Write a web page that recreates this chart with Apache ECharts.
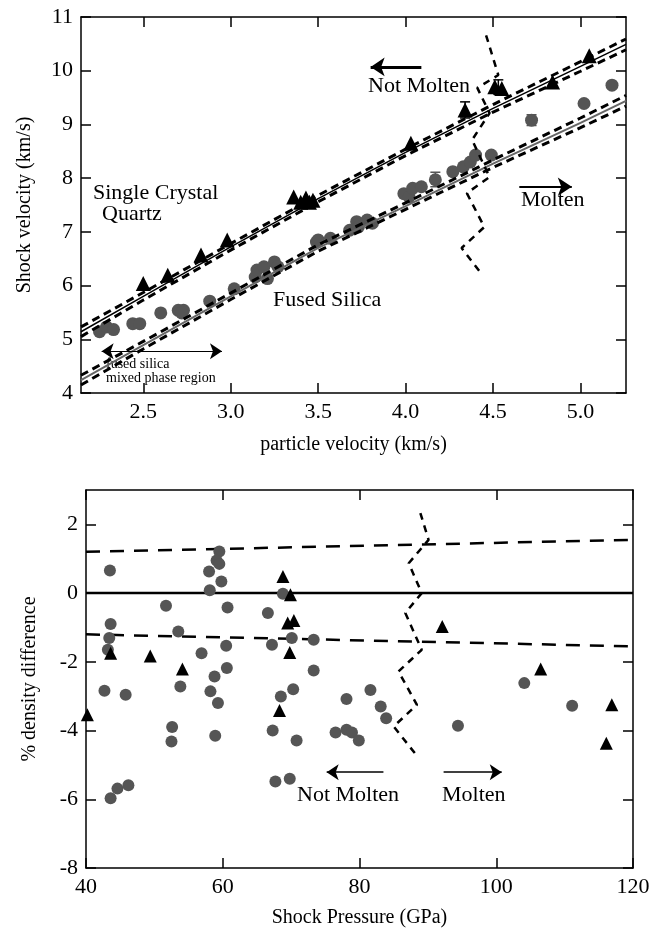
<!DOCTYPE html>
<html>
<head>
<meta charset="utf-8">
<script src="https://cdn.jsdelivr.net/npm/echarts@6/dist/echarts.min.js"></script>
<style>
  html, body { margin: 0; padding: 0; background: #fff; }
  #main { width: 665px; height: 930px; }
</style>
</head>
<body>
<div id="main"></div>
<script>
// top panel: Us - up
var quartzUp = [2.50, 2.64, 2.83, 2.98, 3.36, 3.40, 3.43, 3.45, 3.47, 4.03, 4.34, 4.51, 4.55, 4.84, 5.05];
var quartzUs = [6.04, 6.19, 6.57, 6.85, 7.65, 7.55, 7.63, 7.55, 7.59, 8.65, 9.27, 9.70, 9.67, 9.79, 10.28];
var silicaUp = [2.25, 2.29, 2.33, 2.44, 2.48, 2.60, 2.70, 2.73, 2.72, 2.88, 3.02, 3.14, 3.15, 3.19, 3.21, 3.25, 3.27,
                3.49, 3.50, 3.57, 3.68, 3.72, 3.73, 3.78, 3.81, 3.99, 4.02, 4.04, 4.09, 4.17, 4.27, 4.33, 4.37, 4.40, 4.49,
                4.72, 5.02, 5.18];
var silicaUs = [5.14, 5.23, 5.18, 5.29, 5.29, 5.49, 5.54, 5.54, 5.49, 5.71, 5.94, 6.16, 6.29, 6.35, 6.13, 6.44, 6.35,
                6.81, 6.85, 6.88, 7.03, 7.19, 7.09, 7.22, 7.16, 7.71, 7.65, 7.81, 7.84, 7.97, 8.12, 8.21, 8.30, 8.43, 8.43,
                9.08, 9.39, 9.73];
// error bars [up, low, high]
var quartzErr = [[4.34, 9.12, 9.42], [4.53, 9.56, 9.83]];
var silicaErr = [[4.17, 7.84, 8.11], [4.72, 8.98, 9.18]];

// fit lines and their bands
var fitUp = [2.144, 2.5, 3.0, 3.5, 4.0, 4.5, 5.0, 5.26];
var quartzFit = [5.14, 5.80, 6.72, 7.62, 8.48, 9.30, 10.08, 10.49];
var quartzHi = [5.23, 5.87, 6.78, 7.68, 8.54, 9.37, 10.17, 10.59];
var quartzLo = [5.05, 5.73, 6.66, 7.56, 8.42, 9.23, 9.99, 10.39];
var silicaFit = [4.24, 4.89, 5.80, 6.70, 7.48, 8.27, 9.03, 9.44];
var silicaHi = [4.33, 4.96, 5.86, 6.76, 7.54, 8.34, 9.12, 9.54];
var silicaLo = [4.15, 4.82, 5.74, 6.64, 7.42, 8.20, 8.94, 9.34];

// melt boundary in Us-up
var meltUp = [4.46, 4.53, 4.41, 4.48, 4.38, 4.48, 4.35, 4.45, 4.32, 4.44];
var meltUs = [10.66, 9.92, 9.68, 9.21, 8.71, 8.02, 7.72, 7.09, 6.70, 6.19];

// bottom panel: density difference vs pressure
var quartzP = [40.2, 43.6, 49.4, 54.1, 68.3, 68.8, 69.9, 69.5, 70.4, 69.8, 92.1, 106.5, 116.9, 116.1];
var quartzD = [-3.54, -1.75, -1.83, -2.21, -3.42, 0.48, -0.05, -0.87, -0.80, -1.73, -0.97, -2.21, -3.25, -4.37];
var silicaP = [43.5, 59.5, 59.1, 59.5, 58.0, 59.8, 58.1, 51.7, 60.7, 66.6, 43.6, 53.5, 43.4, 43.2, 56.9, 60.5, 67.2,
               60.6, 58.8, 42.7, 45.8, 53.8, 58.2, 59.3, 68.5, 68.8, 70.1, 73.3, 73.3, 70.3, 52.6, 52.5, 58.9, 67.3,
               70.8, 76.5, 43.6, 44.6, 46.2, 67.7, 69.8, 81.6, 78.1, 83.1, 83.9, 78.1, 78.9, 79.9, 94.4, 104.1, 111.1];
var silicaD = [0.66, 1.21, 0.95, 0.85, 0.63, 0.34, 0.08, -0.37, -0.42, -0.58, -0.90, -1.12, -1.31, -1.65, -1.75, -1.53, -1.50,
               -2.18, -2.43, -2.84, -2.96, -2.72, -2.86, -3.20, -3.01, -0.02, -1.31, -1.36, -2.25, -2.80, -3.90, -4.32, -4.15, -4.00,
               -4.29, -4.06, -5.97, -5.69, -5.59, -5.48, -5.40, -2.82, -3.08, -3.30, -3.64, -3.98, -4.06, -4.29, -3.86, -2.62, -3.28];
var bandP = [40, 120];
var bandHi = [1.20, 1.55];
var bandLo = [-1.20, -1.55];
var meltP = [88.9, 90.1, 87.2, 89.1, 86.7, 89.1, 85.7, 88.4, 85.0, 88.1];
var meltD = [2.33, 1.55, 0.87, 0.00, -0.58, -1.65, -2.28, -3.25, -3.88, -4.66];

var xTicksTop = [2.5, 3.0, 3.5, 4.0, 4.5, 5.0];
var yTicksTop = [4, 5, 6, 7, 8, 9, 10, 11];
var xTicksBot = [40, 60, 80, 100, 120];
var yTicksBot = [-8, -6, -4, -2, 0, 2];

function pairs(xs, ys) {
    var out = [];
    for (var i = 0; i < xs.length; i++) out.push([xs[i], ys[i]]);
    return out;
}

var FONT = 'Liberation Serif';
var GRAY = '#555555';

function axisBase(min, max, ticks, pos, showLabel, gridIndex, fmt) {
    return {
        type: 'value', gridIndex: gridIndex, position: pos, min: min, max: max,
        splitLine: { show: false },
        axisLine: { show: true, onZero: false, lineStyle: { color: '#000', width: 1.5 } },
        axisTick: { show: true, inside: true, length: 10, customValues: ticks, lineStyle: { color: '#000', width: 1.5 } },
        axisLabel: { show: showLabel, customValues: ticks, margin: 8, color: '#000', fontFamily: FONT, fontSize: 22,
                     formatter: fmt || function (v) { return String(v); } }
    };
}

var xTop = axisBase(2.144, 5.26, xTicksTop, 'bottom', true, 0, function (v) { return v.toFixed(1); });
xTop.name = 'particle velocity (km/s)';
xTop.nameLocation = 'middle'; xTop.nameGap = 42;
xTop.nameTextStyle = { fontFamily: FONT, fontSize: 20, color: '#000' };
var xTop2 = axisBase(2.144, 5.26, xTicksTop, 'top', false, 0);
var yTop = axisBase(4, 11, yTicksTop, 'left', true, 0);
yTop.name = 'Shock velocity (km/s)';
yTop.nameLocation = 'middle'; yTop.nameGap = 46;
yTop.nameTextStyle = { fontFamily: FONT, fontSize: 20, color: '#000' };
var yTop2 = axisBase(4, 11, yTicksTop, 'right', false, 0);

var xBot = axisBase(40, 120, xTicksBot, 'bottom', true, 1);
xBot.name = 'Shock Pressure (GPa)';
xBot.nameLocation = 'middle'; xBot.nameGap = 40;
xBot.nameTextStyle = { fontFamily: FONT, fontSize: 20, color: '#000' };
var xBot2 = axisBase(40, 120, xTicksBot, 'top', false, 1);
var yBot = axisBase(-8, 3, yTicksBot, 'left', true, 1);
yBot.name = '% density difference';
yBot.nameLocation = 'middle'; yBot.nameGap = 46;
yBot.nameTextStyle = { fontFamily: FONT, fontSize: 20, color: '#000' };
var yBot2 = axisBase(-8, 3, yTicksBot, 'right', false, 1);

function lineSeries(x, y, xi, yi, color, width, dash, z) {
    return {
        type: 'line', xAxisIndex: xi, yAxisIndex: yi, data: pairs(x, y),
        showSymbol: false, symbol: 'none', silent: true, z: z || 3,
        lineStyle: { color: color, width: width, type: dash || 'solid' }
    };
}

function errSeries(data, color) {
    return {
        type: 'custom', xAxisIndex: 0, yAxisIndex: 0, data: data, z: 1, silent: true,
        renderItem: function (params, api) {
            var lo = api.coord([api.value(0), api.value(1)]);
            var hi = api.coord([api.value(0), api.value(2)]);
            var st = { stroke: color, lineWidth: 1.5 };
            return { type: 'group', children: [
                { type: 'line', shape: { x1: lo[0], y1: lo[1], x2: hi[0], y2: hi[1] }, style: st },
                { type: 'line', shape: { x1: hi[0] - 5, y1: hi[1], x2: hi[0] + 5, y2: hi[1] }, style: st },
                { type: 'line', shape: { x1: lo[0] - 5, y1: lo[1], x2: lo[0] + 5, y2: lo[1] }, style: st }
            ] };
        }
    };
}

var bandDash = [8, 5];
var meltDash = [7, 6];

var meltTop = lineSeries(meltUp, meltUs, 0, 0, '#000', 2.5, meltDash);
meltTop.markLine = {
    silent: true, symbol: ['none', 'arrow'], symbolSize: 14, label: { show: false },
    lineStyle: { color: '#000', width: 3, type: 'solid' },
    data: [
        [{ coord: [4.09, 10.07] }, { coord: [3.80, 10.07] }],
        [{ coord: [4.65, 7.84], lineStyle: { width: 2 } }, { coord: [4.95, 7.84] }]
    ]
};
var dblArrow = lineSeries([], [], 0, 0, '#000', 1);
dblArrow.markLine = {
    silent: true, symbol: ['arrow', 'arrow'], symbolSize: 12, label: { show: false },
    lineStyle: { color: '#000', width: 1.2, type: 'solid' },
    data: [[{ coord: [2.262, 4.777] }, { coord: [2.95, 4.777] }]]
};

var zeroLine = lineSeries(bandP, [0, 0], 2, 2, '#000', 2.5, 'solid', 1);
var meltBot = lineSeries(meltP, meltD, 2, 2, '#000', 2.5, meltDash, 1);
meltBot.markLine = {
    silent: true, symbol: ['none', 'arrow'], symbolSize: 12, label: { show: false },
    lineStyle: { color: '#000', width: 1.5, type: 'solid' },
    data: [
        [{ coord: [83.5, -5.21] }, { coord: [75.2, -5.21] }],
        [{ coord: [92.3, -5.21] }, { coord: [100.8, -5.21] }]
    ]
};

var option = {
    animation: false,
    backgroundColor: '#fff',
    grid: [
        { left: 81, top: 17, width: 545, height: 376 },
        { left: 86, top: 490, width: 547, height: 378 }
    ],
    xAxis: [xTop, xTop2, xBot, xBot2],
    yAxis: [yTop, yTop2, yBot, yBot2],
    series: [
        // top panel
        { type: 'scatter', xAxisIndex: 0, yAxisIndex: 0, data: pairs(silicaUp, silicaUs), symbol: 'circle', symbolSize: 13,
          itemStyle: { color: GRAY, opacity: 1 }, z: 2, silent: true },
        { type: 'scatter', xAxisIndex: 0, yAxisIndex: 0, data: pairs(quartzUp, quartzUs), symbol: 'triangle', symbolSize: 15,
          itemStyle: { color: '#000', opacity: 1 }, z: 2, silent: true },
        errSeries(quartzErr, '#000'),
        errSeries(silicaErr, GRAY),
        lineSeries(fitUp, quartzFit, 0, 0, '#000', 1.5),
        lineSeries(fitUp, quartzHi, 0, 0, '#000', 3, bandDash),
        lineSeries(fitUp, quartzLo, 0, 0, '#000', 3, bandDash),
        lineSeries(fitUp, silicaFit, 0, 0, '#666', 2),
        lineSeries(fitUp, silicaHi, 0, 0, '#000', 3, bandDash),
        lineSeries(fitUp, silicaLo, 0, 0, '#000', 3, bandDash),
        meltTop,
        dblArrow,
        // bottom panel
        zeroLine,
        lineSeries(bandP, bandHi, 2, 2, '#000', 2.5, [14, 10], 1),
        lineSeries(bandP, bandLo, 2, 2, '#000', 2.5, [14, 10], 1),
        meltBot,
        { type: 'scatter', xAxisIndex: 2, yAxisIndex: 2, data: pairs(silicaP, silicaD), symbol: 'circle', symbolSize: 12,
          itemStyle: { color: GRAY, opacity: 1 }, z: 4, silent: true },
        { type: 'scatter', xAxisIndex: 2, yAxisIndex: 2, data: pairs(quartzP, quartzD), symbol: 'triangle', symbolSize: 13,
          itemStyle: { color: '#000', opacity: 1 }, z: 4, silent: true }
    ],
    graphic: [
        { type: 'text', left: 368, top: 75, style: { text: 'Not Molten', font: '22px "Liberation Serif"', fill: '#000' } },
        { type: 'text', left: 521, top: 189, style: { text: 'Molten', font: '22px "Liberation Serif"', fill: '#000' } },
        { type: 'text', left: 93, top: 182, style: { text: 'Single Crystal', font: '22px "Liberation Serif"', fill: '#000' } },
        { type: 'text', left: 102, top: 203, style: { text: 'Quartz', font: '22px "Liberation Serif"', fill: '#000' } },
        { type: 'text', left: 273, top: 289, style: { text: 'Fused Silica', font: '22px "Liberation Serif"', fill: '#000' } },
        { type: 'text', left: 106, top: 357, style: { text: 'fused silica', font: '14px "Liberation Serif"', fill: '#000' } },
        { type: 'text', left: 106, top: 371, style: { text: 'mixed phase region', font: '14px "Liberation Serif"', fill: '#000' } },
        { type: 'text', left: 297, top: 784, style: { text: 'Not Molten', font: '22px "Liberation Serif"', fill: '#000' } },
        { type: 'text', left: 442, top: 784, style: { text: 'Molten', font: '22px "Liberation Serif"', fill: '#000' } }
    ]
};

var myChart = echarts.init(document.getElementById('main'));
myChart.setOption(option);
</script>
</body>
</html>
